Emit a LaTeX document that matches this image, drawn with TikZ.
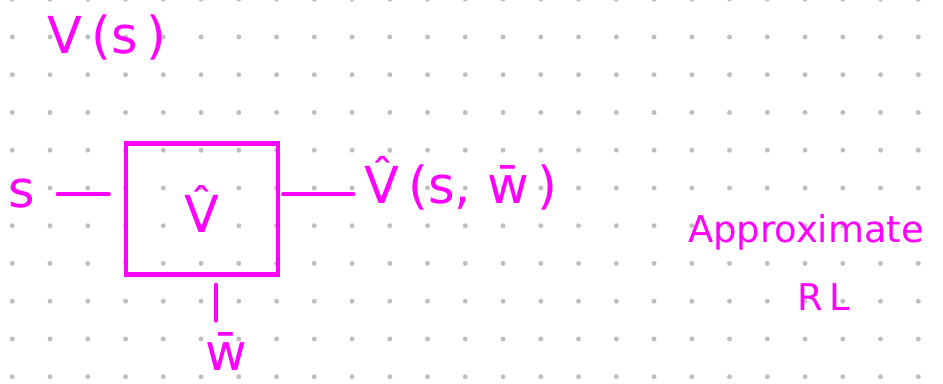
\documentclass[tikz,border=0pt]{standalone}
\usepackage{fontspec}
\setsansfont{DejaVu Sans}

\definecolor{ink}{RGB}{255,0,255}
\definecolor{dotgray}{RGB}{190,190,190}

\tikzset{
    ink label/.style={text=ink, font=\sffamily\fontsize{29}{35}\selectfont, inner sep=0pt},
    note label/.style={text=ink, font=\sffamily\fontsize{21}{26}\selectfont, inner sep=0pt},
    wire/.style={draw=ink, line width=2.2pt, line cap=round},
    block/.style={draw=ink, line width=2.4pt, rectangle, minimum width=3.04cm, minimum height=2.62cm}
}

\begin{document}
\begin{tikzpicture}[x=0.02cm, y=-0.02cm]
    % Draw the dotted paper background
    \useasboundingbox (0,0) rectangle (943,383);
    \begin{scope}
        \clip (0,0) rectangle (943,383);
        \foreach \i in {0,...,24}
            \foreach \j in {0,...,10}
                \fill[dotgray] (12.3+37.75*\i, -0.8+37.75*\j) circle (1.4pt);
    \end{scope}

    % Value function
    \node[ink label] (vs) at (107,38) {V\,(s\,)};

    % Approximator block and its ports
    \node[ink label] (sin) at (22,194) {s};
    \node[block, ink label] (vfun) at (202,209) {\^{V}};
    \node[ink label] (vhat) at (461,183) {\^{V}\,(s, \={w}\,)};
    \node[ink label] (wbar) at (226,352) {\={w}};

    \draw[wire, shorten <=0.44cm, shorten >=0.3cm] (sin.east) -- (sin.east -| vfun.west);
    \draw[wire, shorten <=0.06cm, shorten >=0.22cm] (sin.east -| vfun.east) -- (sin.east -| vhat.west);
    \draw[wire, shorten <=0.16cm, shorten >=0.24cm] ([xshift=-0.2cm]wbar.north |- vfun.south) -- ([xshift=-0.2cm]wbar.north);

    % Side note
    \node[note label] (approx) at (806,232) {Approximate};
    \node[note label] (rl) at (824,297) {R\,L};
\end{tikzpicture}
\end{document}
